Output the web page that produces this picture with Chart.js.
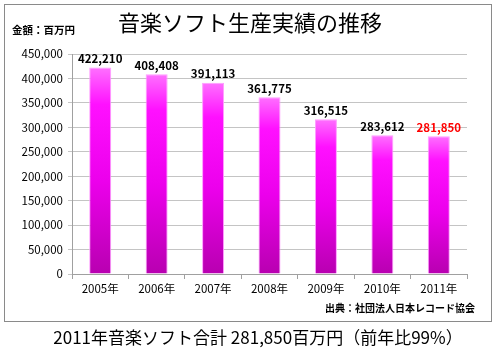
<!DOCTYPE html>
<html><head><meta charset="utf-8">
<script src="https://cdn.jsdelivr.net/npm/chart.js@4/dist/chart.umd.min.js"></script>
<style>
html,body{margin:0;padding:0;background:#fff;width:500px;height:351px;overflow:hidden;font-family:"Noto Sans CJK JP",sans-serif;}
#box{position:absolute;left:4px;top:4px;width:486px;height:316px;border:1px solid #8a8a8a;}
#wrap{position:absolute;left:0;top:0;width:500px;height:351px;}
.t{position:absolute;white-space:nowrap;color:#000;line-height:1;}
#title{left:0;width:500px;text-align:center;top:10px;font-size:22px;}
#unit{left:12px;top:25px;font-size:10.5px;font-weight:bold;}
#src{right:25px;top:303px;font-size:10px;font-weight:bold;}
#cap{left:0;width:516px;text-align:center;top:328px;font-size:17px;}
</style></head>
<body>
<div id="box"></div>
<div id="wrap"><canvas id="c" width="500" height="351"></canvas></div>
<div class="t" id="title">音楽ソフト生産実績の推移</div>
<div class="t" id="unit">金額：百万円</div>
<div class="t" id="src">出典：社団法人日本レコード協会</div>
<div class="t" id="cap">2011年音楽ソフト合計 281,850百万円（前年比99%）</div>
<script>
const categories = ["2005年","2006年","2007年","2008年","2009年","2010年","2011年"];
const values = [422210, 408408, 391113, 361775, 316515, 283612, 281850];
const labelColors = ["#000","#000","#000","#000","#000","#000","#ff0000"];
const yMax = 450000, yStep = 50000;

const FONT = '"Noto Sans CJK JP", sans-serif';

function barGradient(ctx){
  const chart = ctx.chart;
  const ys = chart.scales.y;
  if(!ys || ctx.dataIndex === undefined) return '#ff00ff';
  const top = ys.getPixelForValue(values[ctx.dataIndex]);
  const bot = ys.getPixelForValue(0);
  if(!isFinite(top) || !isFinite(bot)) return '#ff00ff';
  const g = chart.ctx.createLinearGradient(0, top, 0, bot);
  g.addColorStop(0, '#ff70ff');
  g.addColorStop(0.18, '#ff10ff');
  g.addColorStop(0.55, '#ec00ec');
  g.addColorStop(1, '#b800b0');
  return g;
}

const labelPlugin = {
  id:'vlabels',
  afterDatasetsDraw(chart){
    const ctx = chart.ctx;
    const meta = chart.getDatasetMeta(0);
    ctx.save();
    ctx.font = 'bold 11.5px ' + FONT;
    ctx.textAlign = 'center';
    ctx.textBaseline = 'bottom';
    meta.data.forEach((bar,i)=>{
      ctx.fillStyle = labelColors[i];
      ctx.fillText(values[i].toLocaleString('en-US'), bar.x, bar.y - 3);
    });
    ctx.restore();
  }
};

new Chart(document.getElementById('c'), {
  type:'bar',
  data:{labels:categories, datasets:[{data:values, backgroundColor:barGradient, borderColor:'#ff9cff', borderWidth:1, borderSkipped:'bottom', categoryPercentage:1, barPercentage:0.39}]},
  options:{
    responsive:false, animation:false, devicePixelRatio:1,
    layout:{padding:{left:0, right:33, top:54, bottom:47}},
    plugins:{legend:{display:false}, tooltip:{enabled:false}, title:{display:false}},
    scales:{
      x:{
        grid:{offset:true, drawOnChartArea:false, drawTicks:true, tickLength:5, color:'#a0a0a0'},
        border:{color:'#a0a0a0'},
        ticks:{color:'#000', font:{family:FONT, size:11.5}, padding:3, maxRotation:0},
        afterFit(s){ s.height = 30; }
      },
      y:{
        min:0, max:yMax,
        grid:{color:'#c4c4c4', tickLength:4, drawTicks:true},
        border:{color:'#a0a0a0'},
        ticks:{stepSize:yStep, color:'#000', font:{family:FONT, size:11.5}, padding:5,
          callback:v=>v.toLocaleString('en-US')},
        afterFit(s){ s.width = 72; }
      }
    }
  },
  plugins:[labelPlugin]
});
</script>
</body></html>
